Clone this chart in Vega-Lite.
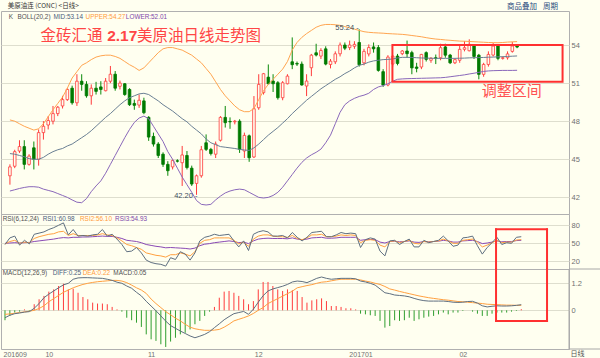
{
"$schema":"https://vega.github.io/schema/vega-lite/v6.json",
"background":"#FFFFF0",
"padding":{"left":0,"top":2,"right":0,"bottom":1},
"spacing":0,
"bounds":"flush",
"config":{"view":{"stroke":"#B0B0B0","strokeWidth":1},"axis":{"labelFont":"Liberation Sans","labelFontSize":7.5,"labelColor":"#707070","gridColor":"#DEDECE","ticks":false,"domain":false}},
"datasets":{"k":[
{"i":0,"o":43.7,"h":44.6,"l":43.0,"c":44.4,"bu":48.1,"bm":45.45,"bl":42.5,"r1":48,"r2":49,"r3":50,"df":-0.33,"de":-0.18,"m":-0.44},
{"i":1,"o":44.45,"h":45.75,"l":44.3,"c":45.6,"bu":48.0,"bm":45.4,"bl":42.6,"r1":59,"r2":53,"r3":50.5,"df":-0.22,"de":-0.16,"m":-0.25},
{"i":2,"o":45.65,"h":46.5,"l":45.5,"c":46.0,"bu":47.8,"bm":45.3,"bl":42.7,"r1":62,"r2":55,"r3":51,"df":-0.15,"de":-0.13,"m":-0.1},
{"i":3,"o":46.0,"h":46.5,"l":44.2,"c":44.6,"bu":47.6,"bm":45.2,"bl":42.78,"r1":47,"r2":50,"r3":50.5,"df":-0.12,"de":-0.1,"m":-0.06},
{"i":4,"o":44.6,"h":45.4,"l":44.5,"c":45.25,"bu":47.45,"bm":45.05,"bl":42.84,"r1":55,"r2":52,"r3":51,"df":-0.08,"de":-0.07,"m":0.04},
{"i":5,"o":45.9,"h":46.4,"l":44.2,"c":45.0,"bu":47.3,"bm":45.0,"bl":42.84,"r1":49,"r2":51,"r3":51.5,"df":-0.06,"de":-0.04,"m":-0.03},
{"i":6,"o":45.0,"h":47.35,"l":44.5,"c":47.1,"bu":47.4,"bm":45.0,"bl":42.8,"r1":65,"r2":58,"r3":53,"df":0.09,"de":0.0,"m":0.27},
{"i":7,"o":47.1,"h":48.0,"l":46.55,"c":47.6,"bu":47.8,"bm":45.15,"bl":42.65,"r1":67,"r2":61,"r3":54,"df":0.3,"de":0.08,"m":0.49},
{"i":8,"o":47.7,"h":48.4,"l":47.35,"c":48.05,"bu":48.35,"bm":45.4,"bl":42.55,"r1":69,"r2":63,"r3":55,"df":0.56,"de":0.2,"m":0.64},
{"i":9,"o":48.0,"h":49.2,"l":47.75,"c":48.6,"bu":48.9,"bm":45.6,"bl":42.45,"r1":73,"r2":65,"r3":56,"df":0.72,"de":0.38,"m":0.83},
{"i":10,"o":48.6,"h":49.2,"l":48.4,"c":49.1,"bu":49.4,"bm":45.75,"bl":42.3,"r1":76,"r2":66,"r3":57,"df":0.86,"de":0.52,"m":0.93},
{"i":11,"o":49.2,"h":50.0,"l":49.0,"c":49.7,"bu":49.9,"bm":45.85,"bl":42.15,"r1":80,"r2":69,"r3":58.5,"df":1.0,"de":0.66,"m":1.08},
{"i":12,"o":49.7,"h":50.6,"l":49.6,"c":50.5,"bu":50.6,"bm":46.05,"bl":42.0,"r1":84,"r2":70,"r3":59.5,"df":1.13,"de":0.8,"m":1.18},
{"i":13,"o":50.6,"h":50.8,"l":49.3,"c":49.45,"bu":51.4,"bm":46.2,"bl":41.8,"r1":64,"r2":63,"r3":59,"df":1.2,"de":0.9,"m":0.93},
{"i":14,"o":49.45,"h":51.7,"l":49.2,"c":51.15,"bu":51.9,"bm":46.45,"bl":41.62,"r1":73,"r2":66,"r3":60,"df":1.38,"de":1.0,"m":0.96},
{"i":15,"o":51.15,"h":51.7,"l":50.4,"c":50.9,"bu":52.4,"bm":46.7,"bl":41.58,"r1":62,"r2":63,"r3":60,"df":1.44,"de":1.08,"m":0.78},
{"i":16,"o":50.9,"h":51.15,"l":49.85,"c":50.0,"bu":52.6,"bm":46.95,"bl":41.9,"r1":63,"r2":63,"r3":60.5,"df":1.45,"de":1.15,"m":0.59},
{"i":17,"o":50.0,"h":50.9,"l":49.3,"c":50.6,"bu":52.85,"bm":47.25,"bl":42.45,"r1":62,"r2":63,"r3":60.5,"df":1.45,"de":1.2,"m":0.49},
{"i":18,"o":50.6,"h":51.1,"l":50.1,"c":50.35,"bu":53.05,"bm":47.6,"bl":42.9,"r1":64,"r2":63,"r3":61,"df":1.44,"de":1.24,"m":0.34},
{"i":19,"o":50.7,"h":51.15,"l":50.1,"c":50.5,"bu":53.15,"bm":47.95,"bl":43.3,"r1":65,"r2":64,"r3":61.5,"df":1.43,"de":1.27,"m":0.3},
{"i":20,"o":50.4,"h":51.4,"l":50.35,"c":51.15,"bu":53.2,"bm":48.3,"bl":43.9,"r1":73,"r2":66,"r3":62,"df":1.42,"de":1.29,"m":0.3},
{"i":21,"o":51.15,"h":52.35,"l":51.0,"c":51.7,"bu":53.2,"bm":48.6,"bl":44.6,"r1":62,"r2":64,"r3":61.5,"df":1.38,"de":1.31,"m":0.27},
{"i":22,"o":51.7,"h":51.95,"l":50.4,"c":50.6,"bu":53.1,"bm":48.95,"bl":45.3,"r1":65,"r2":63,"r3":61.5,"df":1.33,"de":1.33,"m":0.15},
{"i":23,"o":50.75,"h":51.2,"l":50.5,"c":51.0,"bu":52.95,"bm":49.3,"bl":46.0,"r1":57,"r2":59,"r3":60,"df":1.25,"de":1.33,"m":0.04},
{"i":24,"o":50.95,"h":51.0,"l":50.0,"c":50.1,"bu":52.7,"bm":49.6,"bl":46.7,"r1":48,"r2":54,"r3":58,"df":1.2,"de":1.3,"m":-0.06},
{"i":25,"o":50.5,"h":50.6,"l":49.2,"c":49.3,"bu":52.45,"bm":49.85,"bl":47.35,"r1":36,"r2":48,"r3":55,"df":1.08,"de":1.23,"m":-0.33},
{"i":26,"o":49.4,"h":49.7,"l":48.9,"c":49.25,"bu":52.25,"bm":50.0,"bl":47.9,"r1":37,"r2":46,"r3":54,"df":0.98,"de":1.12,"m":-0.44},
{"i":27,"o":49.27,"h":50.1,"l":49.05,"c":49.65,"bu":52.0,"bm":50.15,"bl":48.25,"r1":43,"r2":43,"r3":53,"df":0.8,"de":1.0,"m":-0.55},
{"i":28,"o":49.6,"h":49.85,"l":48.55,"c":48.67,"bu":52.2,"bm":50.2,"bl":48.4,"r1":34,"r2":40,"r3":51,"df":0.64,"de":0.9,"m":-0.74},
{"i":29,"o":48.3,"h":48.4,"l":46.45,"c":46.75,"bu":52.6,"bm":50.1,"bl":48.2,"r1":22,"r2":34,"r3":48,"df":0.4,"de":0.75,"m":-1.07},
{"i":30,"o":46.8,"h":47.1,"l":46.0,"c":46.2,"bu":53.0,"bm":49.85,"bl":47.6,"r1":18,"r2":32,"r3":46.5,"df":0.19,"de":0.5,"m":-1.29},
{"i":31,"o":46.2,"h":46.35,"l":45.1,"c":45.3,"bu":53.4,"bm":49.6,"bl":47.0,"r1":16,"r2":30,"r3":45,"df":-0.02,"de":0.3,"m":-1.36},
{"i":32,"o":45.4,"h":45.55,"l":44.4,"c":44.6,"bu":53.7,"bm":49.3,"bl":46.4,"r1":15,"r2":29,"r3":44,"df":-0.25,"de":0.12,"m":-1.51},
{"i":33,"o":44.6,"h":44.85,"l":43.7,"c":44.1,"bu":53.8,"bm":49.05,"bl":45.6,"r1":12,"r2":27,"r3":42.5,"df":-0.48,"de":-0.06,"m":-1.63},
{"i":34,"o":44.4,"h":45.0,"l":44.2,"c":44.9,"bu":53.8,"bm":48.8,"bl":45.0,"r1":26,"r2":31,"r3":43,"df":-0.68,"de":-0.2,"m":-1.39},
{"i":35,"o":44.88,"h":45.0,"l":44.75,"c":44.85,"bu":53.7,"bm":48.5,"bl":44.3,"r1":23,"r2":31,"r3":42.5,"df":-0.8,"de":-0.35,"m":-1.22},
{"i":36,"o":44.73,"h":46.05,"l":42.9,"c":45.34,"bu":53.6,"bm":48.2,"bl":43.6,"r1":36,"r2":34,"r3":42,"df":-0.92,"de":-0.47,"m":-1.07},
{"i":37,"o":45.3,"h":45.65,"l":44.2,"c":44.35,"bu":53.4,"bm":47.95,"bl":43.0,"r1":32,"r2":32,"r3":41.5,"df":-1.03,"de":-0.62,"m":-1.0},
{"i":38,"o":44.3,"h":44.5,"l":42.9,"c":43.05,"bu":53.2,"bm":47.6,"bl":42.4,"r1":22,"r2":29,"r3":40.5,"df":-1.14,"de":-0.75,"m":-0.85},
{"i":39,"o":43.1,"h":43.8,"l":42.2,"c":43.7,"bu":52.9,"bm":47.3,"bl":41.75,"r1":34,"r2":36,"r3":42,"df":-1.22,"de":-0.82,"m":-0.62},
{"i":40,"o":43.7,"h":46.05,"l":43.55,"c":45.75,"bu":52.6,"bm":47.0,"bl":41.45,"r1":54,"r2":50,"r3":46,"df":-1.15,"de":-0.86,"m":-0.47},
{"i":41,"o":46.3,"h":46.96,"l":45.65,"c":45.78,"bu":52.15,"bm":46.6,"bl":41.4,"r1":60,"r2":55,"r3":48.5,"df":-1.07,"de":-0.89,"m":-0.25},
{"i":42,"o":45.78,"h":45.9,"l":45.3,"c":45.45,"bu":51.7,"bm":46.3,"bl":41.45,"r1":62,"r2":56,"r3":49.5,"df":-0.95,"de":-0.89,"m":-0.06},
{"i":43,"o":45.4,"h":46.4,"l":45.1,"c":46.2,"bu":51.1,"bm":46.15,"bl":41.8,"r1":65,"r2":59,"r3":51,"df":-0.77,"de":-0.88,"m":0.15},
{"i":44,"o":46.5,"h":48.4,"l":46.4,"c":48.3,"bu":50.5,"bm":46.0,"bl":42.1,"r1":63,"r2":59,"r3":52,"df":-0.6,"de":-0.85,"m":0.56},
{"i":45,"o":48.3,"h":49.2,"l":47.5,"c":47.88,"bu":50.0,"bm":45.95,"bl":42.35,"r1":64,"r2":59,"r3":53,"df":-0.42,"de":-0.75,"m":0.83},
{"i":46,"o":47.98,"h":48.3,"l":47.4,"c":47.95,"bu":49.6,"bm":45.9,"bl":42.5,"r1":65,"r2":59,"r3":54,"df":-0.28,"de":-0.62,"m":0.86},
{"i":47,"o":47.95,"h":48.1,"l":47.75,"c":48.0,"bu":49.2,"bm":45.85,"bl":42.6,"r1":54,"r2":55,"r3":53,"df":-0.15,"de":-0.47,"m":0.78},
{"i":48,"o":48.0,"h":48.15,"l":45.5,"c":45.78,"bu":48.9,"bm":45.78,"bl":42.65,"r1":44,"r2":49,"r3":51,"df":-0.1,"de":-0.4,"m":0.64},
{"i":49,"o":45.65,"h":47.1,"l":45.1,"c":46.88,"bu":48.75,"bm":45.73,"bl":42.6,"r1":54,"r2":52,"r3":52,"df":-0.05,"de":-0.33,"m":0.49},
{"i":50,"o":46.85,"h":46.95,"l":44.8,"c":45.12,"bu":48.75,"bm":45.7,"bl":42.4,"r1":38,"r2":45,"r3":49.5,"df":-0.18,"de":-0.25,"m":0.27},
{"i":51,"o":45.18,"h":49.98,"l":45.1,"c":48.98,"bu":49.0,"bm":45.9,"bl":42.2,"r1":65,"r2":57,"r3":54,"df":0.05,"de":-0.14,"m":0.41},
{"i":52,"o":49.06,"h":51.7,"l":48.9,"c":50.9,"bu":49.7,"bm":46.2,"bl":42.0,"r1":69,"r2":62,"r3":57,"df":0.36,"de":0.0,"m":0.93},
{"i":53,"o":50.25,"h":51.8,"l":50.1,"c":51.74,"bu":50.4,"bm":46.55,"bl":41.95,"r1":71,"r2":64,"r3":58,"df":0.65,"de":0.12,"m":1.26},
{"i":54,"o":51.47,"h":52.47,"l":50.9,"c":50.95,"bu":50.9,"bm":46.9,"bl":42.0,"r1":69,"r2":64,"r3":58.5,"df":0.86,"de":0.3,"m":1.26},
{"i":55,"o":51.16,"h":51.7,"l":50.3,"c":50.95,"bu":51.3,"bm":47.2,"bl":42.15,"r1":62,"r2":62,"r3":58,"df":0.95,"de":0.41,"m":1.08},
{"i":56,"o":51.03,"h":51.16,"l":49.7,"c":49.85,"bu":51.7,"bm":47.5,"bl":42.4,"r1":62,"r2":61,"r3":58,"df":1.01,"de":0.52,"m":0.93},
{"i":57,"o":49.85,"h":51.16,"l":49.65,"c":51.03,"bu":52.1,"bm":47.85,"bl":42.8,"r1":63,"r2":61,"r3":58,"df":1.07,"de":0.63,"m":0.86},
{"i":58,"o":50.95,"h":51.7,"l":50.9,"c":51.55,"bu":52.7,"bm":48.2,"bl":43.3,"r1":59,"r2":60,"r3":57.5,"df":1.15,"de":0.74,"m":0.93},
{"i":59,"o":52.68,"h":54.6,"l":52.1,"c":52.45,"bu":53.6,"bm":48.6,"bl":43.8,"r1":68,"r2":63,"r3":59,"df":1.26,"de":0.85,"m":0.89},
{"i":60,"o":52.55,"h":52.7,"l":52.35,"c":52.5,"bu":54.2,"bm":48.95,"bl":44.3,"r1":60,"r2":58,"r3":57,"df":1.3,"de":1.0,"m":0.86},
{"i":61,"o":52.5,"h":52.7,"l":50.8,"c":50.85,"bu":54.6,"bm":49.3,"bl":44.75,"r1":54,"r2":56,"r3":56,"df":1.28,"de":1.05,"m":0.59},
{"i":62,"o":50.77,"h":51.7,"l":49.98,"c":51.16,"bu":54.9,"bm":49.65,"bl":45.1,"r1":60,"r2":59,"r3":57,"df":1.23,"de":1.1,"m":0.34},
{"i":63,"o":52.21,"h":53.3,"l":51.55,"c":53.2,"bu":55.15,"bm":49.95,"bl":45.35,"r1":68,"r2":64,"r3":59,"df":1.32,"de":1.14,"m":0.44},
{"i":64,"o":53.39,"h":54.1,"l":53.1,"c":53.21,"bu":55.4,"bm":50.25,"bl":45.55,"r1":69,"r2":64,"r3":59.5,"df":1.42,"de":1.2,"m":0.49},
{"i":65,"o":53.13,"h":53.75,"l":52.9,"c":53.57,"bu":55.55,"bm":50.55,"bl":45.8,"r1":70,"r2":65,"r3":60,"df":1.48,"de":1.25,"m":0.53},
{"i":66,"o":53.7,"h":53.9,"l":52.4,"c":52.5,"bu":55.62,"bm":50.8,"bl":46.3,"r1":61,"r2":61,"r3":58.5,"df":1.42,"de":1.27,"m":0.41},
{"i":67,"o":52.47,"h":52.9,"l":52.16,"c":52.73,"bu":55.62,"bm":51.05,"bl":46.9,"r1":61,"r2":61,"r3":58.5,"df":1.38,"de":1.31,"m":0.19},
{"i":68,"o":52.68,"h":53.5,"l":52.5,"c":53.31,"bu":55.6,"bm":51.3,"bl":47.8,"r1":64,"r2":62,"r3":59,"df":1.4,"de":1.35,"m":0.19},
{"i":69,"o":53.31,"h":54.2,"l":53.1,"c":54.0,"bu":55.55,"bm":51.5,"bl":48.7,"r1":68,"r2":64,"r3":60,"df":1.42,"de":1.38,"m":0.15},
{"i":70,"o":54.0,"h":54.2,"l":53.6,"c":53.75,"bu":55.45,"bm":51.75,"bl":49.3,"r1":66,"r2":63,"r3":60,"df":1.42,"de":1.38,"m":0.09},
{"i":71,"o":53.8,"h":54.35,"l":53.6,"c":54.0,"bu":55.35,"bm":51.95,"bl":49.6,"r1":67,"r2":64,"r3":60,"df":1.42,"de":1.38,"m":0.09},
{"i":72,"o":53.9,"h":54.3,"l":53.7,"c":54.05,"bu":55.25,"bm":52.2,"bl":49.8,"r1":66,"r2":63,"r3":60,"df":1.4,"de":1.38,"m":0.04},
{"i":73,"o":54.2,"h":55.24,"l":52.3,"c":52.45,"bu":55.15,"bm":52.4,"bl":49.95,"r1":43,"r2":51,"r3":55,"df":1.3,"de":1.35,"m":-0.15},
{"i":74,"o":52.6,"h":53.7,"l":52.4,"c":53.5,"bu":55.05,"bm":52.5,"bl":50.05,"r1":56,"r2":55,"r3":56,"df":1.26,"de":1.3,"m":-0.18},
{"i":75,"o":53.3,"h":54.05,"l":53.1,"c":53.8,"bu":55.0,"bm":52.65,"bl":50.2,"r1":59,"r2":56,"r3":56.5,"df":1.2,"de":1.26,"m":-0.22},
{"i":76,"o":53.85,"h":54.2,"l":53.4,"c":53.7,"bu":54.97,"bm":52.75,"bl":50.5,"r1":57,"r2":55,"r3":56,"df":1.12,"de":1.2,"m":-0.25},
{"i":77,"o":53.8,"h":54.0,"l":51.9,"c":52.0,"bu":54.95,"bm":52.8,"bl":50.7,"r1":37,"r2":47,"r3":52,"df":0.95,"de":1.15,"m":-0.47},
{"i":78,"o":51.9,"h":52.1,"l":50.7,"c":50.85,"bu":54.93,"bm":52.85,"bl":50.8,"r1":29,"r2":44,"r3":50.5,"df":0.78,"de":1.06,"m":-0.77},
{"i":79,"o":50.85,"h":53.2,"l":50.75,"c":53.05,"bu":54.9,"bm":52.87,"bl":50.95,"r1":54,"r2":53,"r3":53,"df":0.74,"de":0.95,"m":-0.7},
{"i":80,"o":52.5,"h":53.2,"l":52.3,"c":53.13,"bu":54.88,"bm":52.9,"bl":51.15,"r1":55,"r2":54,"r3":53.5,"df":0.68,"de":0.9,"m":-0.44},
{"i":81,"o":53.13,"h":53.3,"l":52.4,"c":52.55,"bu":54.86,"bm":52.98,"bl":51.3,"r1":48,"r2":51,"r3":52.5,"df":0.66,"de":0.84,"m":-0.47},
{"i":82,"o":53.32,"h":53.6,"l":53.2,"c":53.53,"bu":54.84,"bm":53.03,"bl":51.33,"r1":53,"r2":53,"r3":53,"df":0.64,"de":0.79,"m":-0.44},
{"i":83,"o":53.53,"h":54.35,"l":53.0,"c":53.32,"bu":54.8,"bm":53.03,"bl":51.35,"r1":57,"r2":55,"r3":54,"df":0.6,"de":0.74,"m":-0.33},
{"i":84,"o":53.4,"h":53.55,"l":51.7,"c":52.2,"bu":54.75,"bm":53.02,"bl":51.36,"r1":44,"r2":50,"r3":52,"df":0.53,"de":0.69,"m":-0.47},
{"i":85,"o":52.27,"h":52.6,"l":51.85,"c":52.16,"bu":54.7,"bm":53.0,"bl":51.37,"r1":44,"r2":49,"r3":51.5,"df":0.47,"de":0.64,"m":-0.4},
{"i":86,"o":52.27,"h":53.3,"l":52.1,"c":53.26,"bu":54.65,"bm":52.98,"bl":51.38,"r1":55,"r2":53,"r3":53,"df":0.43,"de":0.6,"m":-0.33},
{"i":87,"o":53.4,"h":53.5,"l":52.7,"c":52.87,"bu":54.58,"bm":52.97,"bl":51.39,"r1":51,"r2":52,"r3":52.5,"df":0.41,"de":0.56,"m":-0.28},
{"i":88,"o":52.8,"h":53.05,"l":52.6,"c":52.95,"bu":54.52,"bm":52.96,"bl":51.4,"r1":53,"r2":53,"r3":53,"df":0.41,"de":0.53,"m":-0.25},
{"i":89,"o":53.0,"h":53.25,"l":52.5,"c":52.95,"bu":54.47,"bm":52.95,"bl":51.41,"r1":55,"r2":54,"r3":53.5,"df":0.41,"de":0.5,"m":-0.18},
{"i":90,"o":53.0,"h":54.1,"l":52.8,"c":53.79,"bu":54.44,"bm":52.95,"bl":51.42,"r1":62,"r2":57,"r3":55,"df":0.41,"de":0.47,"m":-0.1},
{"i":91,"o":53.85,"h":54.1,"l":53.0,"c":53.2,"bu":54.4,"bm":52.95,"bl":51.45,"r1":54,"r2":54,"r3":54,"df":0.39,"de":0.45,"m":-0.18},
{"i":92,"o":53.21,"h":53.3,"l":52.5,"c":52.6,"bu":54.37,"bm":52.95,"bl":51.5,"r1":45,"r2":50,"r3":52,"df":0.36,"de":0.42,"m":-0.1},
{"i":93,"o":52.6,"h":52.95,"l":52.5,"c":52.85,"bu":54.34,"bm":52.95,"bl":51.55,"r1":47,"r2":50,"r3":52,"df":0.35,"de":0.39,"m":-0.1},
{"i":94,"o":52.8,"h":54.0,"l":52.6,"c":53.66,"bu":54.31,"bm":52.96,"bl":51.6,"r1":59,"r2":55,"r3":54,"df":0.36,"de":0.38,"m":-0.03},
{"i":95,"o":53.66,"h":54.3,"l":53.5,"c":53.79,"bu":54.3,"bm":52.97,"bl":51.65,"r1":60,"r2":56,"r3":54.5,"df":0.39,"de":0.36,"m":0.0},
{"i":96,"o":53.55,"h":54.45,"l":53.5,"c":54.05,"bu":54.28,"bm":52.99,"bl":51.72,"r1":62,"r2":57,"r3":55,"df":0.4,"de":0.34,"m":-0.06},
{"i":97,"o":54.0,"h":54.05,"l":52.9,"c":53.1,"bu":54.26,"bm":53.0,"bl":51.78,"r1":46,"r2":52,"r3":53,"df":0.32,"de":0.32,"m":-0.15},
{"i":98,"o":53.2,"h":53.3,"l":51.3,"c":51.69,"bu":54.24,"bm":53.01,"bl":51.85,"r1":32,"r2":44,"r3":49.5,"df":0.2,"de":0.3,"m":-0.25},
{"i":99,"o":51.69,"h":52.6,"l":51.5,"c":52.47,"bu":54.22,"bm":53.02,"bl":51.92,"r1":43,"r2":47,"r3":50.5,"df":0.15,"de":0.27,"m":-0.25},
{"i":100,"o":52.47,"h":53.5,"l":52.3,"c":53.26,"bu":54.2,"bm":53.04,"bl":51.96,"r1":51,"r2":51,"r3":52,"df":0.18,"de":0.26,"m":-0.15},
{"i":101,"o":53.21,"h":54.15,"l":53.1,"c":53.92,"bu":54.19,"bm":53.05,"bl":51.98,"r1":60,"r2":55,"r3":54,"df":0.2,"de":0.25,"m":-0.1},
{"i":102,"o":53.92,"h":54.0,"l":52.8,"c":52.95,"bu":54.18,"bm":53.07,"bl":51.99,"r1":48,"r2":51,"r3":52.5,"df":0.19,"de":0.24,"m":-0.1},
{"i":103,"o":52.95,"h":53.1,"l":52.85,"c":53.0,"bu":54.2,"bm":53.08,"bl":52.0,"r1":51,"r2":52,"r3":53,"df":0.19,"de":0.23,"m":-0.1},
{"i":104,"o":53.0,"h":53.5,"l":52.85,"c":53.3,"bu":54.23,"bm":53.1,"bl":52.0,"r1":50,"r2":52,"r3":53,"df":0.2,"de":0.23,"m":-0.06},
{"i":105,"o":53.5,"h":54.25,"l":53.4,"c":53.92,"bu":54.25,"bm":53.12,"bl":52.0,"r1":60,"r2":55.5,"r3":54.5,"df":0.22,"de":0.22,"m":-0.03},
{"i":106,"o":53.92,"h":54.0,"l":53.75,"c":53.84,"bu":54.27,"bm":53.14,"bl":52.01,"r1":60.98,"r2":56.1,"r3":54.93,"df":0.25,"de":0.22,"m":0.05}
]},
"vconcat":[
{"width":568,"height":203,
 "encoding":{
   "x":{"field":"i","type":"quantitative","scale":{"domain":[-0.82,115.8],"nice":false,"zero":false},"axis":null,"title":null},
   "y":{"field":"l","type":"quantitative","scale":{"domain":[40.69,56.68],"nice":false,"zero":false},"title":null,"axis":{"orient":"right","values":[42,45,48,51,54],"grid":true,"labelPadding":2,"title":null}}
 },
 "layer":[
 {"data":{"name":"k"},"mark":{"type":"rule","strokeWidth":1},"encoding":{"y2":{"field":"h"},"color":{"condition":{"test":"datum.c >= datum.o","value":"#FF3A3A"},"value":"#0A8A0A"}}},
 {"data":{"name":"k"},"mark":{"type":"bar","width":2.6,"strokeWidth":0.8},"encoding":{"y":{"field":"o","type":"quantitative","title":null},"y2":{"field":"c"},"fill":{"condition":{"test":"datum.c >= datum.o","value":"#FFFFF0"},"value":"#007A00"},"stroke":{"condition":{"test":"datum.c >= datum.o","value":"#FF3A3A"},"value":"#007A00"}}},
 {"data":{"name":"k"},"mark":{"type":"line","strokeWidth":1,"color":"#FFA550"},"encoding":{"y":{"field":"bu","type":"quantitative","title":null}}},
 {"data":{"name":"k"},"mark":{"type":"line","strokeWidth":1,"color":"#6A7F94"},"encoding":{"y":{"field":"bm","type":"quantitative","title":null}}},
 {"data":{"name":"k"},"mark":{"type":"line","strokeWidth":1,"color":"#8A68BA"},"encoding":{"y":{"field":"bl","type":"quantitative","title":null}}},
 {"data":{"values":[{"x":-0.27,"y":56.23,"t":"K","k":"g"},{"x":1.58,"y":56.23,"t":"BOLL(20,2)","k":"g"},{"x":9.1,"y":56.23,"t":"MID:53.14","k":"b"},{"x":15.81,"y":56.23,"t":"UPPER:54.27","k":"o"},{"x":24.23,"y":56.23,"t":"LOWER:52.01","k":"p"}]},"mark":{"type":"text","align":"left","baseline":"middle","font":"Liberation Sans","fontSize":6.4},"encoding":{"x":{"field":"x","type":"quantitative","title":null},"y":{"field":"y","type":"quantitative","title":null},"text":{"field":"t"},"color":{"field":"k","type":"nominal","scale":{"domain":["g","b","o","p"],"range":["#505050","#4A607C","#FF9A3C","#8048AA"]},"legend":null}}},
 {"data":{"values":[{"x":-0.47,"y":57.31,"t":"美原油连 (CONC) <日线>"}]},"mark":{"type":"text","align":"left","baseline":"top","font":"Noto Sans CJK SC","fontSize":6.5,"color":"#333333"},"encoding":{"x":{"field":"x","type":"quantitative","title":null},"y":{"field":"y","type":"quantitative","title":null},"text":{"field":"t"}}},
 {"data":{"values":[{"x":103.9,"y":57.31,"t":"商品叠加"},{"x":111.4,"y":57.31,"t":"周期"}]},"mark":{"type":"text","align":"left","baseline":"top","font":"Noto Sans CJK SC","fontSize":7.5,"color":"#2B4C7E"},"encoding":{"x":{"field":"x","type":"quantitative","title":null},"y":{"field":"y","type":"quantitative","title":null},"text":{"field":"t"}}},
 {"data":{"values":[{"x":6.37,"y":54.71,"t":"金砖汇通"},{"x":26.55,"y":54.71,"t":"美原油日线走势图"}]},"mark":{"type":"text","align":"left","baseline":"middle","font":"Noto Sans CJK SC","fontSize":15.5,"color":"#FF4646"},"encoding":{"x":{"field":"x","type":"quantitative","title":null},"y":{"field":"y","type":"quantitative","title":null},"text":{"field":"t"}}},
 {"data":{"values":[{"x":20.33,"y":54.71,"t":"2.17"}]},"mark":{"type":"text","align":"left","baseline":"middle","font":"Liberation Sans","fontWeight":"bold","fontSize":15.5,"color":"#FF4646"},"encoding":{"x":{"field":"x","type":"quantitative","title":null},"y":{"field":"y","type":"quantitative","title":null},"text":{"field":"t"}}},
 {"data":{"values":[{"x":98.6,"y":50.38,"t":"调整区间"}]},"mark":{"type":"text","align":"left","baseline":"middle","font":"Noto Sans CJK SC","fontSize":15,"color":"#FF5050"},"encoding":{"x":{"field":"x","type":"quantitative","title":null},"y":{"field":"y","type":"quantitative","title":null},"text":{"field":"t"}}},
 {"data":{"values":[{"x":72.9,"y":55.36,"t":"55.24 -"},{"x":39.2,"y":42.11,"t":"42.20 -"}]},"mark":{"type":"text","align":"right","baseline":"middle","font":"Liberation Sans","fontSize":7.5,"color":"#3E4E5E"},"encoding":{"x":{"field":"x","type":"quantitative","title":null},"y":{"field":"y","type":"quantitative","title":null},"text":{"field":"t"}}},
 {"data":{"values":[{"x":79.94,"x2":115.5,"y":54.0,"y2":51.1}]},"mark":{"type":"rect","fillOpacity":0,"stroke":"#FF3030","strokeWidth":2},"encoding":{"x":{"field":"x","type":"quantitative","title":null},"x2":{"field":"x2"},"y":{"field":"y","type":"quantitative","title":null},"y2":{"field":"y2"}}}
]},
{"width":568,"height":55,
 "encoding":{
   "x":{"field":"i","type":"quantitative","scale":{"domain":[-0.82,115.8],"nice":false,"zero":false},"axis":null,"title":null},
   "y":{"field":"r3","type":"quantitative","scale":{"domain":[7.2,98.8],"nice":false,"zero":false},"title":null,"axis":{"orient":"right","values":[20,50,80],"grid":true,"labelPadding":2,"title":null}}
 },
 "layer":[
 {"data":{"name":"k"},"mark":{"type":"line","strokeWidth":1,"color":"#8A4AB5"}},
 {"data":{"name":"k"},"mark":{"type":"line","strokeWidth":1,"color":"#FFA040"},"encoding":{"y":{"field":"r2","type":"quantitative","title":null}}},
 {"data":{"name":"k"},"mark":{"type":"line","strokeWidth":1,"color":"#5F6F80"},"encoding":{"y":{"field":"r1","type":"quantitative","title":null}}},
 {"data":{"values":[{"x":-0.47,"y":90,"t":"RSI(6,12,24)","k":"g"},{"x":7.74,"y":90,"t":"RSI1:60.98","k":"b"},{"x":15.4,"y":90,"t":"RSI2:56.10","k":"o"},{"x":22.59,"y":90,"t":"RSI3:54.93","k":"p"}]},"mark":{"type":"text","align":"left","baseline":"middle","font":"Liberation Sans","fontSize":6.4},"encoding":{"x":{"field":"x","type":"quantitative","title":null},"y":{"field":"y","type":"quantitative","title":null},"text":{"field":"t"},"color":{"field":"k","type":"nominal","scale":{"domain":["g","b","o","p"],"range":["#505050","#4A607C","#FF9A3C","#8048AA"]},"legend":null}}},
 {"data":{"values":[{"x":100.82,"y":73.3,"y2":7.2},{"x":111.29,"y":73.3,"y2":7.2}]},"mark":{"type":"rule","strokeWidth":2,"color":"#FF3030","strokeCap":"square"},"encoding":{"x":{"field":"x","type":"quantitative","title":null},"y":{"field":"y","type":"quantitative","title":null},"y2":{"field":"y2"}}},
 {"data":{"values":[{"x":100.82,"x2":111.29,"y":73.3}]},"mark":{"type":"rule","strokeWidth":2,"color":"#FF3030","strokeCap":"square"},"encoding":{"x":{"field":"x","type":"quantitative","title":null},"x2":{"field":"x2"},"y":{"field":"y","type":"quantitative","title":null}}}
]},
{"width":568,"height":80,
 "encoding":{
   "x":{"field":"i","type":"quantitative","scale":{"domain":[-0.82,115.8],"nice":false,"zero":false},"title":null,"axis":{"orient":"bottom","values":[-0.4,9,30,52,73,94],"labelExpr":"datum.value < 0 ? '201609' : datum.value == 9 ? '10' : datum.value == 30 ? '11' : datum.value == 52 ? '12' : datum.value == 73 ? '201701' : '02'","labelAlign":{"condition":{"test":"datum.value < 0","value":"left"},"value":"center"},"labelFlush":false,"labelPadding":1,"labelFontSize":7,"labelBaseline":"top","grid":false,"title":null}},
   "y":{"field":"m","type":"quantitative","scale":{"domain":[-1.72,1.836],"nice":false,"zero":false},"title":null,"axis":{"orient":"right","values":[0,1.2],"labelExpr":"datum.value == 0 ? '0' : '1.2'","grid":true,"labelPadding":2,"title":null}}
 },
 "layer":[
 {"data":{"name":"k"},"mark":{"type":"rule","strokeWidth":1},"encoding":{"y2":{"datum":0},"color":{"condition":{"test":"datum.m >= 0","value":"#FF3B3B"},"value":"#2E9E2E"}}},
 {"data":{"name":"k"},"mark":{"type":"line","strokeWidth":1,"color":"#FFA040"},"encoding":{"y":{"field":"de","type":"quantitative","title":null}}},
 {"data":{"name":"k"},"mark":{"type":"line","strokeWidth":1,"color":"#5F6F80"},"encoding":{"y":{"field":"df","type":"quantitative","title":null}}},
 {"data":{"values":[{"x":-0.47,"y":1.671,"t":"MACD(12,26,9)","k":"g"},{"x":9.79,"y":1.671,"t":"DIFF:0.25","k":"b"},{"x":15.95,"y":1.671,"t":"DEA:0.22","k":"o"},{"x":22.24,"y":1.671,"t":"MACD:0.05","k":"g"}]},"mark":{"type":"text","align":"left","baseline":"middle","font":"Liberation Sans","fontSize":6.4},"encoding":{"x":{"field":"x","type":"quantitative","title":null},"y":{"field":"y","type":"quantitative","title":null},"text":{"field":"t"},"color":{"field":"k","type":"nominal","scale":{"domain":["g","b","o","p"],"range":["#505050","#4A607C","#FF9A3C","#8048AA"]},"legend":null}}},
 {"data":{"values":[{"x":100.82,"y":1.836,"y2":-0.476},{"x":111.29,"y":1.836,"y2":-0.476}]},"mark":{"type":"rule","strokeWidth":2,"color":"#FF3030","strokeCap":"square"},"encoding":{"x":{"field":"x","type":"quantitative","title":null},"y":{"field":"y","type":"quantitative","title":null},"y2":{"field":"y2"}}},
 {"data":{"values":[{"x":100.82,"x2":111.29,"y":-0.476}]},"mark":{"type":"rule","strokeWidth":2,"color":"#FF3030","strokeCap":"square"},"encoding":{"x":{"field":"x","type":"quantitative","title":null},"x2":{"field":"x2"},"y":{"field":"y","type":"quantitative","title":null}}},
 {"data":{"values":[{"x":115.8,"x2":122.27,"y":1.836,"y2":-1.72}]},"mark":{"type":"rect","fillOpacity":0,"stroke":"#A8A8A8","strokeWidth":1},"encoding":{"x":{"field":"x","type":"quantitative","title":null},"x2":{"field":"x2"},"y":{"field":"y","type":"quantitative","title":null},"y2":{"field":"y2"}}},
 {"data":{"values":[{"x":116.1,"y":-1.94,"t":"日线"}]},"mark":{"type":"text","align":"left","baseline":"middle","font":"Noto Sans CJK SC","fontSize":7,"color":"#555555"},"encoding":{"x":{"field":"x","type":"quantitative","title":null},"y":{"field":"y","type":"quantitative","title":null},"text":{"field":"t"}}}
]}
]
}
